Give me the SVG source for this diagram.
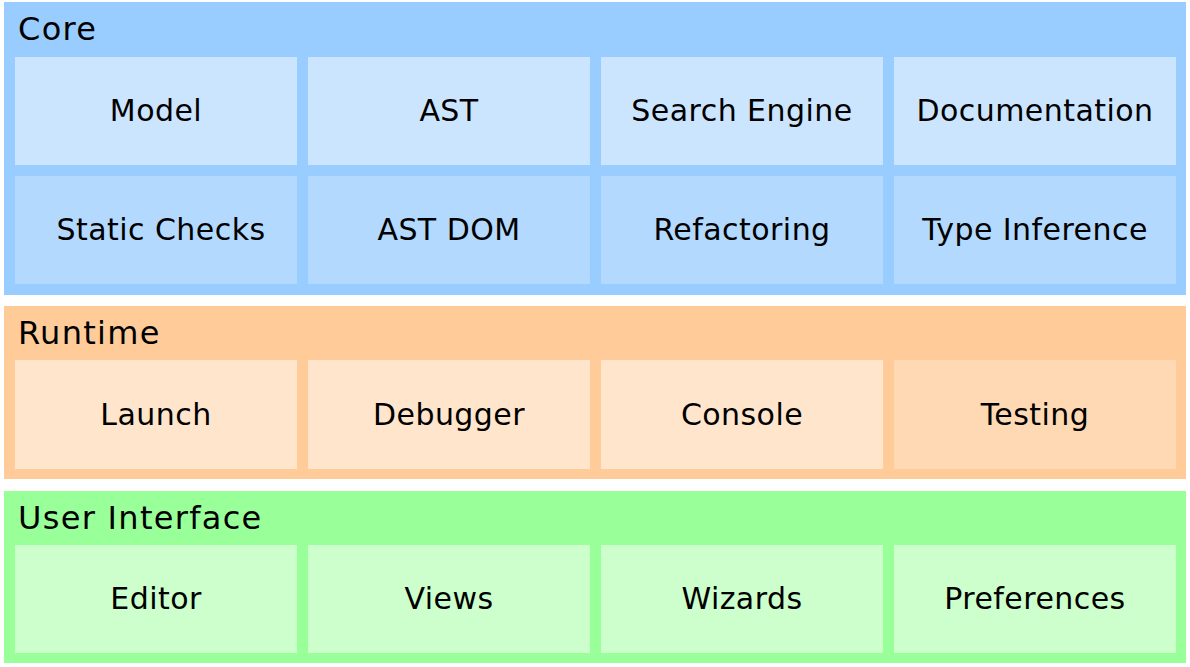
<svg xmlns="http://www.w3.org/2000/svg" width="1190" height="667" viewBox="0 0 1190 667">
<style>
text{font-family:"DejaVu Sans","Liberation Sans",sans-serif;fill:#000}
.t{font-size:32px;letter-spacing:1.3px}
.l{font-size:30px;text-anchor:middle;letter-spacing:0.45px}
.cp{fill:#99ccff}.c1{fill:#cce5ff}.c2{fill:#b3d9ff}
.rp{fill:#ffcc99}.r1{fill:#ffe5cc}.r2{fill:#ffd9b3}
.up{fill:#99ff99}.u1{fill:#ccffcc}
</style>
<rect width="1190" height="667" fill="#fff"/>
<g id="core">
<rect class="cp" x="4" y="2" width="1182" height="293"/>
<text class="t" x="18" y="40">Core</text>
</g>
<g id="model"><rect class="c1" x="15" y="57" width="282" height="108"/><text class="l" x="156" y="121">Model</text></g>
<g id="ast"><rect class="c1" x="308" y="57" width="282" height="108"/><text class="l" x="449" y="121">AST</text></g>
<g id="search-engine"><rect class="c1" x="601" y="57" width="282" height="108"/><text class="l" x="742" y="121">Search Engine</text></g>
<g id="documentation"><rect class="c1" x="894" y="57" width="282" height="108"/><text class="l" x="1035" y="121">Documentation</text></g>
<g id="static-checks"><rect class="c2" x="15" y="176" width="282" height="108"/><text class="l" x="161" y="240">Static Checks</text></g>
<g id="ast-dom"><rect class="c2" x="308" y="176" width="282" height="108"/><text class="l" x="449" y="240">AST DOM</text></g>
<g id="refactoring"><rect class="c2" x="601" y="176" width="282" height="108"/><text class="l" x="742" y="240">Refactoring</text></g>
<g id="type-inference"><rect class="c2" x="894" y="176" width="282" height="108"/><text class="l" x="1035" y="240">Type Inference</text></g>
<g id="runtime">
<rect class="rp" x="4" y="306" width="1182" height="173"/>
<text class="t" x="18" y="344">Runtime</text>
</g>
<g id="launch"><rect class="r1" x="15" y="360" width="282" height="109"/><text class="l" x="156" y="425">Launch</text></g>
<g id="debugger"><rect class="r1" x="308" y="360" width="282" height="109"/><text class="l" x="449" y="425">Debugger</text></g>
<g id="console"><rect class="r1" x="601" y="360" width="282" height="109"/><text class="l" x="742" y="425">Console</text></g>
<g id="testing"><rect class="r2" x="894" y="360" width="282" height="109"/><text class="l" x="1035" y="425">Testing</text></g>
<g id="user-interface">
<rect class="up" x="4" y="491" width="1182" height="172"/>
<text class="t" x="18" y="529">User Interface</text>
</g>
<g id="editor"><rect class="u1" x="15" y="545" width="282" height="108"/><text class="l" x="156" y="609">Editor</text></g>
<g id="views"><rect class="u1" x="308" y="545" width="282" height="108"/><text class="l" x="449" y="609">Views</text></g>
<g id="wizards"><rect class="u1" x="601" y="545" width="282" height="108"/><text class="l" x="742" y="609">Wizards</text></g>
<g id="preferences"><rect class="u1" x="894" y="545" width="282" height="108"/><text class="l" x="1035" y="609">Preferences</text></g>
<g id="connectors"/>
</svg>
